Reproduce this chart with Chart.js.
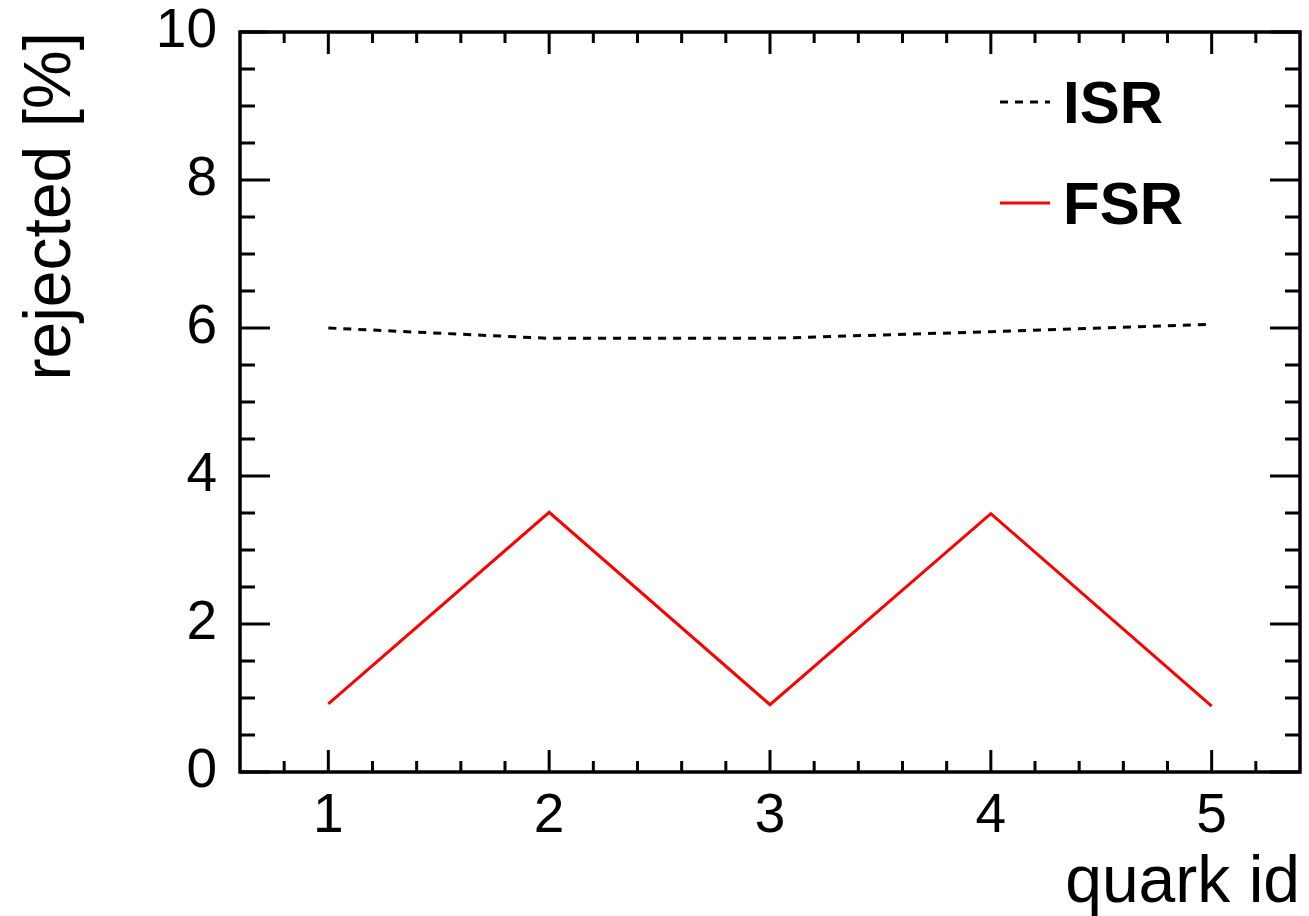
<!DOCTYPE html>
<html>
<head>
<meta charset="utf-8">
<script src="https://cdn.jsdelivr.net/npm/chart.js@4"></script>
<style>
  html, body { margin: 0; padding: 0; background: #fff; }
  #wrap { width: 1309px; height: 916px; }
</style>
</head>
<body>
<div id="wrap"><canvas id="chart" width="1309" height="916"></canvas></div>
<script>
// data
const quarkIds = [1, 2, 3, 4, 5];
const isrValues = [6.00, 5.86, 5.86, 5.95, 6.05];
const fsrValues = [0.92, 3.51, 0.91, 3.49, 0.89];

// axis ticks
const xMajorTicks = [1, 2, 3, 4, 5];
const xMinorTicks = [0.8, 1.2, 1.4, 1.6, 1.8, 2.2, 2.4, 2.6, 2.8, 3.2, 3.4, 3.6, 3.8, 4.2, 4.4, 4.6, 4.8, 5.2];
const yMajorTicks = [0, 2, 4, 6, 8, 10];
const yMinorTicks = [0.5, 1, 1.5, 2.5, 3, 3.5, 4.5, 5, 5.5, 6.5, 7, 7.5, 8.5, 9, 9.5];

const FONT = "'Liberation Sans', Arial, Helvetica, sans-serif";

// ROOT-like frame with inward ticks on all four sides, plus legend
const framePlugin = {
    id: 'frame',
    afterDatasetsDraw(chart) {
        const ctx = chart.ctx;
        const a = chart.chartArea;
        const xs = chart.scales.x, ys = chart.scales.y;
        ctx.save();
        ctx.strokeStyle = '#000';
        ctx.lineWidth = 3.5;
        ctx.lineCap = 'butt';
        ctx.strokeRect(a.left, a.top, a.right - a.left, a.bottom - a.top);

        ctx.beginPath();
        ctx.lineWidth = 3;
        const xTick = (v, len) => {
            const px = xs.getPixelForValue(v);
            ctx.moveTo(px, a.bottom); ctx.lineTo(px, a.bottom - len);
            ctx.moveTo(px, a.top); ctx.lineTo(px, a.top + len);
        };
        const yTick = (v, len) => {
            const py = ys.getPixelForValue(v);
            ctx.moveTo(a.left, py); ctx.lineTo(a.left + len, py);
            ctx.moveTo(a.right, py); ctx.lineTo(a.right - len, py);
        };
        xMajorTicks.forEach(v => xTick(v, 22));
        xMinorTicks.forEach(v => xTick(v, 11));
        yMajorTicks.forEach(v => yTick(v, 30));
        yMinorTicks.forEach(v => yTick(v, 15));
        ctx.stroke();

        // legend
        const rows = [102, 203];
        chart.data.datasets.forEach((ds, i) => {
            const y = rows[i];
            ctx.beginPath();
            ctx.strokeStyle = ds.borderColor;
            ctx.lineWidth = ds.borderWidth;
            ctx.setLineDash(ds.borderDash || []);
            ctx.moveTo(1000, y); ctx.lineTo(1050, y);
            ctx.stroke();
            ctx.setLineDash([]);
            ctx.fillStyle = '#000';
            ctx.font = 'bold 60px ' + FONT;
            ctx.textBaseline = 'alphabetic';
            ctx.textAlign = 'left';
            ctx.fillText(ds.label, 1063, y + 21);
        });
        ctx.restore();
    }
};

new Chart(document.getElementById('chart').getContext('2d'), {
    type: 'line',
    data: {
        datasets: [{
            label: 'ISR',
            data: quarkIds.map((q, i) => ({ x: q, y: isrValues[i] })),
            borderColor: '#000',
            borderWidth: 3,
            borderDash: [8, 7],
            pointRadius: 0,
            fill: false,
            tension: 0
        }, {
            label: 'FSR',
            data: quarkIds.map((q, i) => ({ x: q, y: fsrValues[i] })),
            borderColor: '#ff0000',
            borderWidth: 3,
            pointRadius: 0,
            fill: false,
            tension: 0
        }]
    },
    options: {
        responsive: false,
        animation: false,
        events: [],
        layout: { padding: { top: 32, right: 9, left: 0, bottom: 0 } },
        plugins: { legend: { display: false }, tooltip: { enabled: false } },
        scales: {
            x: {
                type: 'linear',
                min: 0.6,
                max: 5.4,
                grid: { display: false, drawTicks: false },
                border: { display: false },
                afterBuildTicks(scale) { scale.ticks = xMajorTicks.map(v => ({ value: v })); },
                afterFit(scale) {
                    scale.height = 144;
                    scale.paddingLeft = 0;
                    scale.paddingRight = 0;
                },
                ticks: {
                    color: '#000',
                    font: { family: FONT, size: 55 },
                    padding: 12,
                    maxRotation: 0
                },
                title: {
                    display: true,
                    text: 'quark id',
                    align: 'end',
                    color: '#000',
                    font: { family: FONT, size: 66 },
                    padding: { top: 0, bottom: -7 }
                }
            },
            y: {
                min: 0,
                max: 10,
                grid: { display: false, drawTicks: false },
                border: { display: false },
                afterBuildTicks(scale) { scale.ticks = yMajorTicks.map(v => ({ value: v })); },
                afterFit(scale) {
                    scale.width = 240;
                    scale.paddingTop = 0;
                    scale.paddingBottom = 0;
                },
                ticks: {
                    color: '#000',
                    font: { family: FONT, size: 55 },
                    padding: 23
                },
                title: {
                    display: true,
                    text: 'rejected [%]',
                    align: 'end',
                    color: '#000',
                    font: { family: FONT, size: 66 },
                    padding: { top: 12, bottom: 0 }
                }
            }
        }
    },
    plugins: [framePlugin]
});
</script>
</body>
</html>
